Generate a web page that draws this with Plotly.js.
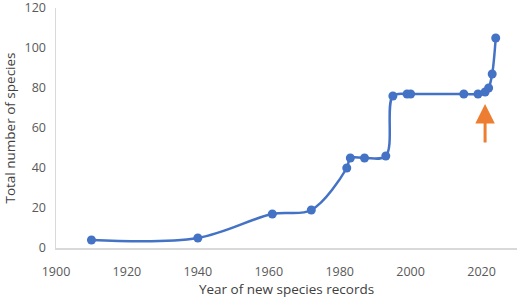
<!DOCTYPE html>
<html><head><meta charset="utf-8">
<script src="https://cdn.plot.ly/plotly-3.0.1.min.js"></script>
<style>html,body{margin:0;padding:0;background:#fff}#c{width:520px;height:298px}</style>
</head><body><div id="c"></div>
<script>
const years = [1910, 1940, 1961, 1972, 1982, 1983, 1987, 1993, 1995, 1999, 2000, 2015, 2019, 2021, 2022, 2023, 2024];
const totals = [4, 5, 17, 19, 40, 45, 45, 46, 76, 77, 77, 77, 77, 78, 80, 87, 105];
const xTicks = [1900, 1920, 1940, 1960, 1980, 2000, 2020];
const yTicks = [0, 20, 40, 60, 80, 100, 120];
const arrowYear = 2021, arrowFrom = 52, arrowTo = 72;

const font = {family: 'Open Sans, Liberation Sans, sans-serif', color: '#595959', size: 12};
Plotly.newPlot('c', [{
  x: years, y: totals, type: 'scatter', mode: 'lines+markers',
  line: {color: '#4472C4', width: 2.5, shape: 'spline', smoothing: 1},
  marker: {color: '#4472C4', size: 9}
}], {
  width: 520, height: 298,
  margin: {l: 56, r: 3, t: 8, b: 50},
  paper_bgcolor: '#fff', plot_bgcolor: '#fff',
  font: font, showlegend: false,
  xaxis: {range: [1900, 2030], tickvals: xTicks, showgrid: false, zeroline: false,
    showline: true, linecolor: '#d9d9d9', linewidth: 1.5, ticks: 'outside', ticklen: 11,
    tickcolor: 'rgba(0,0,0,0)',
    tickfont: {size: 12.5, color: '#595959'},
    title: {text: 'Year of new species records', font: {size: 13.5, color: '#404040'}, standoff: 6}},
  yaxis: {range: [0, 120], tickvals: yTicks, showgrid: false, zeroline: false,
    showline: true, linecolor: '#d9d9d9', linewidth: 1.5, ticks: 'outside', ticklen: 6,
    tickcolor: 'rgba(0,0,0,0)', ticklabeloverflow: 'allow',
    tickfont: {size: 12.5, color: '#595959'},
    title: {text: 'Total number of species', font: {size: 13.5, color: '#404040'}, standoff: 6}},
  annotations: [{x: arrowYear, y: arrowTo, ax: arrowYear, ay: arrowFrom, axref: 'x', ayref: 'y',
    xref: 'x', yref: 'y', text: '', showarrow: true, arrowhead: 2, arrowsize: 1.3, arrowwidth: 3,
    arrowcolor: '#ED7D31'}]
}, {displayModeBar: false, staticPlot: true});
</script></body></html>
